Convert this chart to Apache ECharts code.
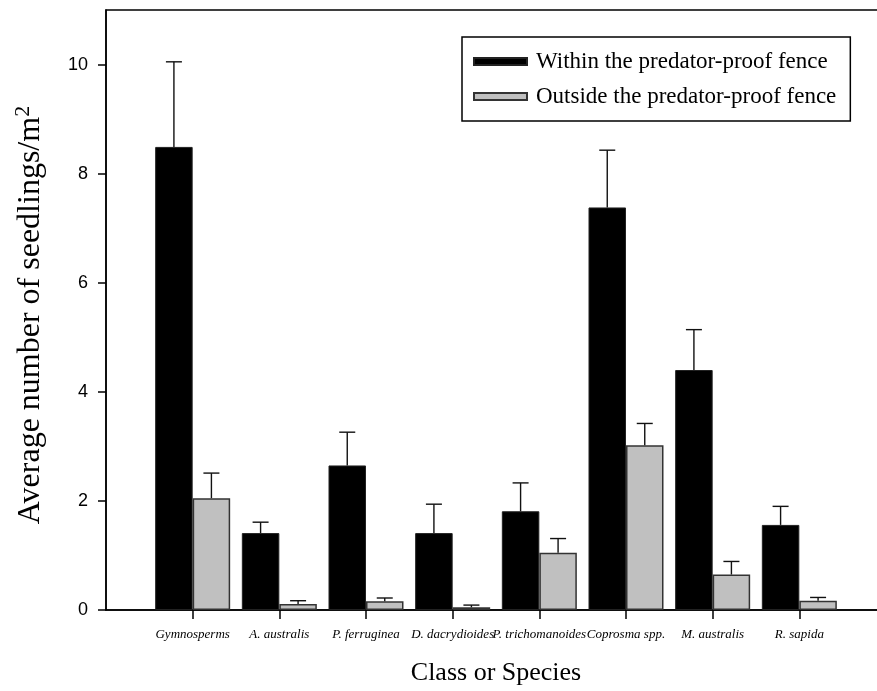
<!DOCTYPE html>
<html>
<head>
<meta charset="utf-8">
<script src="https://cdn.jsdelivr.net/npm/echarts@6/dist/echarts.min.js"></script>
<style>
  html, body { margin: 0; padding: 0; background: #fff; }
  #chart { width: 877px; height: 691px; }
</style>
</head>
<body>
<div id="chart"></div>
<script>
// class / species on the x axis
var categories = ['Gymnosperms', 'A. australis', 'P. ferruginea', 'D. dacrydioides',
  'P. trichomanoides', 'Coprosma spp.', 'M. australis', 'R. sapida']
var seriesNames = ['Within the predator-proof fence', 'Outside the predator-proof fence']

// mean seedlings / m2 and top of the error bar (mean + SE)
var withinMean = [8.49, 1.41, 2.65, 1.41, 1.81, 7.38, 4.40, 1.56]
var withinUpper = [10.05, 1.61, 3.26, 1.94, 2.33, 8.43, 5.14, 1.90]
var outsideMean = [2.05, 0.11, 0.16, 0.05, 1.05, 3.02, 0.65, 0.17]
var outsideUpper = [2.51, 0.17, 0.22, 0.09, 1.31, 3.42, 0.89, 0.23]

var yTicks = [0, 2, 4, 6, 8, 10]

var BAR_W = 37.5
var SERIF = 'Liberation Serif, Times New Roman, serif'
var SANS = 'Liberation Sans, Arial, sans-serif'

// empty slot at each end so groups sit one band in from the axis
var axisData = [''].concat(categories, [''])
function pad(arr) {
  return ['-'].concat(arr, ['-'])
}
function errData(mean, upper) {
  return mean.map(function (m, i) { return [i + 1, m, upper[i]] })
}

function errorRender(offset) {
  return function (params, api) {
    var x = api.value(0)
    var base = api.coord([x, api.value(1)])
    var top = api.coord([x, api.value(2)])
    var cx = base[0] + offset
    var style = { stroke: '#111', lineWidth: 1.4 }
    return {
      type: 'group',
      children: [
        { type: 'line', shape: { x1: cx, y1: base[1], x2: cx, y2: top[1] }, style: style },
        { type: 'line', shape: { x1: cx - 8, y1: top[1], x2: cx + 8, y2: top[1] }, style: style }
      ]
    }
  }
}

var chart = echarts.init(document.getElementById('chart'))
chart.setOption({
  animation: false,
  grid: {
    left: 106, top: 10, width: 780, bottom: 81,
    containLabel: false,
    outerBoundsMode: 'none',
    show: true, borderColor: '#000', borderWidth: 1.5, backgroundColor: 'transparent'
  },
  legend: {
    orient: 'vertical',
    left: 462, top: 37,
    data: seriesNames,
    itemWidth: 53, itemHeight: 7,
    itemGap: 12,
    padding: [13, 14, 13, 11],
    borderColor: '#000', borderWidth: 1.5,
    icon: 'rect',
    selectedMode: false,
    textStyle: { fontFamily: SERIF, fontSize: 23, color: '#000', padding: [0, 0, 0, 4] }
  },
  xAxis: {
    type: 'category',
    data: axisData,
    boundaryGap: false,
    name: 'Class or Species',
    nameLocation: 'middle',
    nameGap: 50,
    nameTextStyle: { fontFamily: SERIF, fontSize: 26, color: '#000' },
    axisLine: { lineStyle: { color: '#000', width: 1.5 } },
    axisTick: {
      length: 9,
      lineStyle: { color: '#000', width: 1.5 },
      interval: function (i) { return i > 0 && i < axisData.length - 1 }
    },
    axisLabel: {
      interval: 0, margin: 18,
      fontFamily: SERIF, fontStyle: 'italic', fontSize: 13, color: '#000'
    },
    splitLine: { show: false }
  },
  yAxis: {
    type: 'value',
    min: 0, max: 11, interval: 2,
    name: 'Average number of seedlings/m{sup|2}',
    nameLocation: 'middle',
    nameGap: 57,
    nameRotate: 90,
    nameTextStyle: {
      fontFamily: SERIF, fontSize: 32, color: '#000',
      padding: [0, 10, 0, 0],
      rich: {
        sup: { fontFamily: SERIF, fontSize: 22, color: '#000', verticalAlign: 'top', padding: [0, 0, 15, 0] }
      }
    },
    axisLine: { show: true, lineStyle: { color: '#000', width: 1.5 } },
    axisTick: { show: true, length: 8, customValues: yTicks, lineStyle: { color: '#000', width: 1.5 } },
    axisLabel: {
      margin: 18, fontFamily: SANS, fontSize: 18, color: '#000',
      customValues: yTicks
    },
    splitLine: { show: false }
  },
  series: [
    {
      name: seriesNames[0],
      type: 'bar',
      data: pad(withinMean),
      barWidth: BAR_W,
      barGap: '0%',
      itemStyle: { color: '#000', borderColor: '#222', borderWidth: 1 }
    },
    {
      name: seriesNames[1],
      type: 'bar',
      data: pad(outsideMean),
      barWidth: BAR_W,
      barGap: '0%',
      itemStyle: { color: '#c0c0c0', borderColor: '#333', borderWidth: 1.5 }
    },
    {
      type: 'custom',
      data: errData(withinMean, withinUpper),
      renderItem: errorRender(-BAR_W / 2),
      z: 5
    },
    {
      type: 'custom',
      data: errData(outsideMean, outsideUpper),
      renderItem: errorRender(BAR_W / 2),
      z: 5
    }
  ]
})
</script>
</body>
</html>
